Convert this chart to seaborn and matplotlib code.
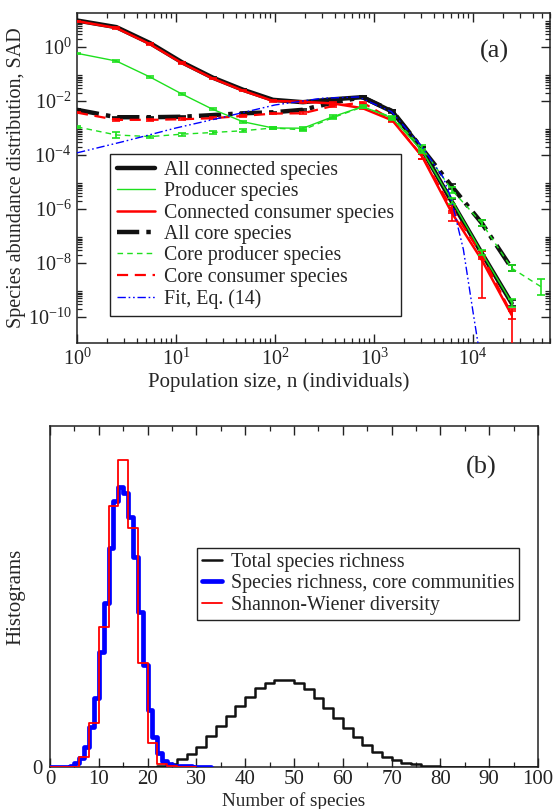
import numpy as np
import pandas as pd
import matplotlib
matplotlib.use("Agg")
import matplotlib.pyplot as plt
import seaborn as sns
from matplotlib.lines import Line2D
from matplotlib.ticker import FixedLocator, LogLocator, NullFormatter, LogFormatterMathtext, MultipleLocator

# ---------------- data: panel (a) ----------------
n_bins = [1, 2.5, 5.5, 11.5, 23.5, 47.5, 95.5, 191.5, 383.5, 767.5, 1535.5,
          3071.5, 6143.5, 12287.5, 24575.5, 49151.5]

all_connected = [9.5, 5.4, 1.37, 0.27, 0.073, 0.026, 0.011, 0.0090, 0.0115, 0.0138,
                 0.0040, 1.6e-4, 1.8e-6, 2.3e-8, 3.3e-10]
producer = [0.58, 0.30, 0.076, 0.018, 0.0049, 0.0017, 0.0010, 0.00098, 0.0026, 0.0062,
            0.0023, 1.4e-4, 2.0e-6, 2.4e-8, 3.4e-10]
consumer = [9.0, 5.0, 1.25, 0.25, 0.068, 0.024, 0.010, 0.0093, 0.0081, 0.0054,
            0.0019, 8.7e-5, 7.0e-7, 1.3e-8, 1.2e-10]
all_core = [0.0047, 0.0025, 0.0025, 0.0026, 0.0030, 0.0035, 0.0038, 0.0047, 0.0087, 0.0138,
            0.0042, 1.7e-4, 6.7e-6, 3.0e-7, 6.5e-9]
core_producer = [0.0011, 0.00055, 0.00048, 0.00059, 0.00068, 0.00079, 0.0010, 0.00085,
                 0.0024, 0.0060, 0.0025, 1.8e-4, 5.0e-6, 3.0e-7, 6.5e-9, 1.3e-9]
core_consumer = [0.0037, 0.0020, 0.0020, 0.0021, 0.0023, 0.0028, 0.0034, 0.0035, 0.0065,
                 0.0087, 0.0020, 8.9e-5, 1.0e-6, 2.0e-8, 1.3e-10]

# error bars in decades (lower, upper)
producer_err_lo = [0.02, 0.03, 0.03, 0.03, 0.04, 0.04, 0.04, 0.05, 0.05, 0.04, 0.05, 0.08, 0.1, 0.1, 0.15]
producer_err_hi = [0.02, 0.03, 0.03, 0.03, 0.04, 0.04, 0.04, 0.05, 0.05, 0.04, 0.05, 0.08, 0.1, 0.1, 0.15]
consumer_err_lo = [0.02, 0.02, 0.03, 0.03, 0.03, 0.03, 0.03, 0.04, 0.04, 0.04, 0.05, 0.1, 0.3, 1.4, 3.0]
consumer_err_hi = [0.02, 0.02, 0.03, 0.03, 0.03, 0.03, 0.03, 0.04, 0.04, 0.04, 0.05, 0.08, 0.1, 0.1, 0.15]
core_producer_err = [0.03, 0.1, 0.04, 0.05, 0.05, 0.05, 0.04, 0.04, 0.04, 0.04, 0.05, 0.1, 0.1, 0.12, 0.12, 0.3]
core_consumer_err = [0.02, 0.03, 0.03, 0.03, 0.03, 0.03, 0.03, 0.03, 0.04, 0.04, 0.05, 0.1, 0.15, 0.15, 0.2]
all_core_err = [0.02, 0.02, 0.02, 0.02, 0.02, 0.02, 0.02, 0.03, 0.03, 0.03, 0.05, 0.08, 0.1, 0.1, 0.12]

fit_n = [1, 3, 10, 30, 100, 300, 700, 1500, 3000, 5000, 6000, 8000, 10000, 11500]
fit_v = [1.2e-4, 3.2e-4, 1.0e-3, 2.5e-3, 7.1e-3, 1.26e-2, 1.4e-2, 4.0e-3, 2.2e-4,
         1.5e-5, 2.5e-6, 3.2e-8, 1.6e-10, 6.3e-12]

# ---------------- data: panel (b) ----------------
blue_edges = list(range(0, 34))
blue_counts = [0.3, 0.3, 0.3, 0.5, 1, 4, 9, 20, 40, 69, 115, 164, 219, 266, 280, 274, 250,
               210, 155, 102, 57, 30, 14, 6, 3, 1.5, 1, 0.8, 0.6, 0.5, 0.4, 0.3, 0.2]
red_edges = list(range(0, 32, 2))
red_counts = [0, 0, 0, 10, 44, 140, 261, 307, 239, 104, 24, 3, 1, 0.3, 0]
black_edges = list(range(10, 102, 2))
black_counts = [0, 0, 0, 0.1, 0.2, 0.4, 1, 3, 7.7, 12.7, 20, 31, 41, 51, 61, 70, 79, 84,
                87, 87, 84, 78, 69, 59, 49, 39, 30, 22, 15, 10, 7, 4.3, 2.7, 1.5, 1,
                0.5, 0.3, 0.15, 0.1, 0, 0, 0, 0, 0, 0]

# ---------------- style ----------------
sns.set_theme(style="ticks")
plt.rcParams["font.family"] = ["Liberation Serif", "DejaVu Serif"]
plt.rcParams["mathtext.fontset"] = "custom"
plt.rcParams["mathtext.rm"] = "Liberation Serif"
plt.rcParams["mathtext.default"] = "regular"
plt.rcParams["axes.edgecolor"] = "#222222"
plt.rcParams["xtick.color"] = "#222222"
plt.rcParams["ytick.color"] = "#222222"

GREEN = "#1ee01e"
RED = "#ff0000"
BLUE = "#0000ff"
BLACK = "#111111"

LABEL_FS = 15
LEG_FS = 14.3

fig = plt.figure(figsize=(5.54, 8.09), dpi=100)
ax1 = fig.add_axes([77 / 554, 1 - 343 / 809, 473 / 554, 330 / 809])
ax2 = fig.add_axes([50 / 554, 1 - 767 / 809, 488 / 554, 341 / 809])

ax1.set_xscale("log")
ax1.set_yscale("log")

def series(vals):
    return pd.DataFrame({"n": n_bins[:len(vals)], "v": vals})

def err(vals, lo, hi):
    v = np.asarray(vals)
    return [v - v * 10 ** (-np.asarray(lo)), v * 10 ** np.asarray(hi) - v]

dash_core = (0, (5, 1.6, 1.0, 1.6))

# lines
sns.lineplot(data=series(all_connected), x="n", y="v", ax=ax1, color=BLACK, linewidth=3.2, zorder=3)
sns.lineplot(data=series(all_core), x="n", y="v", ax=ax1, color=BLACK, linewidth=3.2,
             linestyle=dash_core, zorder=3)
sns.lineplot(data=series(consumer), x="n", y="v", ax=ax1, color=RED, linewidth=1.8, zorder=4)
sns.lineplot(data=series(core_consumer), x="n", y="v", ax=ax1, color=RED, linewidth=1.6,
             linestyle=(0, (5, 3)), zorder=4)
sns.lineplot(data=series(producer), x="n", y="v", ax=ax1, color=GREEN, linewidth=1.0, zorder=5)
sns.lineplot(data=series(core_producer), x="n", y="v", ax=ax1, color=GREEN, linewidth=1.0,
             linestyle=(0, (4, 3)), zorder=5)
sns.lineplot(x=fit_n, y=fit_v, ax=ax1, color=BLUE, linewidth=1.0,
             linestyle=(0, (6, 2, 1.2, 2, 1.2, 2)), zorder=6)

# error bars
ekw = dict(fmt="none", capsize=2.8, capthick=1.2, elinewidth=1.2)
ax1.errorbar(n_bins[:len(all_core)], all_core, yerr=err(all_core, all_core_err, all_core_err),
             ecolor=BLACK, zorder=3, **ekw)
ax1.errorbar(n_bins[:len(all_connected)], all_connected,
             yerr=err(all_connected, all_core_err, all_core_err), ecolor=BLACK, zorder=3, **ekw)
ax1.errorbar(n_bins[:len(consumer)], consumer, yerr=err(consumer, consumer_err_lo, consumer_err_hi),
             ecolor=RED, zorder=4, **ekw)
ax1.errorbar(n_bins[:len(core_consumer)], core_consumer,
             yerr=err(core_consumer, core_consumer_err, core_consumer_err), ecolor=RED, zorder=4, **ekw)
ax1.errorbar(n_bins[:len(producer)], producer, yerr=err(producer, producer_err_lo, producer_err_hi),
             ecolor=GREEN, zorder=5, **ekw)
ax1.errorbar(n_bins[:len(core_producer)], core_producer,
             yerr=err(core_producer, core_producer_err, core_producer_err), ecolor=GREEN, zorder=5, **ekw)

ax1.set_xlim(1, 6e4)
ax1.set_ylim(1.1e-11, 18)

ax1.xaxis.set_major_locator(LogLocator(base=10, numticks=10))
ax1.xaxis.set_minor_locator(LogLocator(base=10, subs=np.arange(2, 10), numticks=20))
ax1.xaxis.set_major_formatter(LogFormatterMathtext())
ax1.xaxis.set_minor_formatter(NullFormatter())
ymaj = [10.0 ** e for e in range(-10, 1, 2)]
ymin = [m * 10.0 ** e for e in range(-12, 2, 2) for m in range(2, 10)]
ax1.yaxis.set_major_locator(FixedLocator(ymaj))
ax1.yaxis.set_minor_locator(FixedLocator(ymin))
ax1.yaxis.set_major_formatter(LogFormatterMathtext())
ax1.yaxis.set_minor_formatter(NullFormatter())

for ax, fs in ((ax1, 14.5), (ax2, 15)):
    ax.tick_params(which="both", direction="in", top=True, right=True, labelsize=fs, pad=4)
    ax.tick_params(which="major", length=6.5, width=1.0)
    ax.tick_params(which="minor", length=3.3, width=0.9)
    for s in ax.spines.values():
        s.set_linewidth(1.1)

ax1.set_xlabel("Population size, n (individuals)", fontsize=LABEL_FS)
ax1.xaxis.set_label_coords(0.427, -0.09)
ax1.set_ylabel("Species abundance distribution, SAD", fontsize=14.5)
ax1.yaxis.set_label_coords(-0.108, 0.5)
ax1.text(0.882, 0.882, "(a)", transform=ax1.transAxes, fontsize=19, ha="center", va="center")

handles1 = [
    Line2D([], [], color=BLACK, lw=3.2),
    Line2D([], [], color=GREEN, lw=1.0),
    Line2D([], [], color=RED, lw=1.8),
    Line2D([], [], color=BLACK, lw=3.2, linestyle=dash_core),
    Line2D([], [], color=GREEN, lw=1.0, linestyle=(0, (4, 3))),
    Line2D([], [], color=RED, lw=1.6, linestyle=(0, (5, 3))),
    Line2D([], [], color=BLUE, lw=1.0, linestyle=(0, (6, 2, 1.2, 2, 1.2, 2))),
]
labels1 = ["All connected species", "Producer species", "Connected consumer species",
           "All core species", "Core producer species", "Core consumer species", "Fit, Eq. (14)"]
leg1 = ax1.legend(handles1, labels1, loc="upper left", bbox_to_anchor=(0.07, 0.573),
                  borderaxespad=0, fontsize=LEG_FS, frameon=True, fancybox=False,
                  edgecolor="#222222", framealpha=1, handlelength=1.9, labelspacing=0.12,
                  borderpad=0.35, handletextpad=0.45)
leg1.get_frame().set_linewidth(1.0)

# ---------------- panel (b) ----------------
def centers(edges):
    e = np.asarray(edges, dtype=float)
    return (e[:-1] + e[1:]) / 2

sns.histplot(x=centers(black_edges), weights=black_counts, bins=black_edges, element="step",
             fill=False, color=BLACK, linewidth=1.8, ax=ax2, zorder=3)
sns.histplot(x=centers(blue_edges), weights=blue_counts, bins=blue_edges, element="step",
             fill=False, color=BLUE, linewidth=3.4, ax=ax2, zorder=4)
sns.histplot(x=centers(red_edges), weights=red_counts, bins=red_edges, element="step",
             fill=False, color=RED, linewidth=1.3, ax=ax2, zorder=5)

ax2.set_xlim(0, 100)
ax2.set_ylim(0, 341)
ax2.xaxis.set_major_locator(MultipleLocator(10))
ax2.xaxis.set_minor_locator(MultipleLocator(5))
ax2.set_yticks([0])
ax2.set_yticklabels(["0"])
ax2.tick_params(axis="y", which="both", length=0, pad=5)
ax2.tick_params(axis="x", which="both", pad=2)
ax2.set_xlabel("Number of species", fontsize=13.8)
ax2.xaxis.set_label_coords(0.5, -0.074)
ax2.set_ylabel("Histograms", fontsize=LABEL_FS)
ax2.yaxis.set_label_coords(-0.05, 0.5)
ax2.text(0.883, 0.877, "(b)", transform=ax2.transAxes, fontsize=19, ha="center", va="center")

handles2 = [Line2D([], [], color=BLACK, lw=1.8),
            Line2D([], [], color=BLUE, lw=3.4),
            Line2D([], [], color=RED, lw=1.3)]
labels2 = ["Total species richness", "Species richness, core communities",
           "Shannon-Wiener diversity"]
leg2 = ax2.legend(handles2, labels2, loc="upper left",
                  bbox_to_anchor=((197 - 50) / 488, (767 - 548) / 341),
                  borderaxespad=0, fontsize=LEG_FS, frameon=True, fancybox=False,
                  edgecolor="#222222", framealpha=1, handlelength=1.0, labelspacing=0.12,
                  borderpad=0.25, handletextpad=0.45)
leg2.get_frame().set_linewidth(1.0)

fig.savefig("out.png", dpi=100)
